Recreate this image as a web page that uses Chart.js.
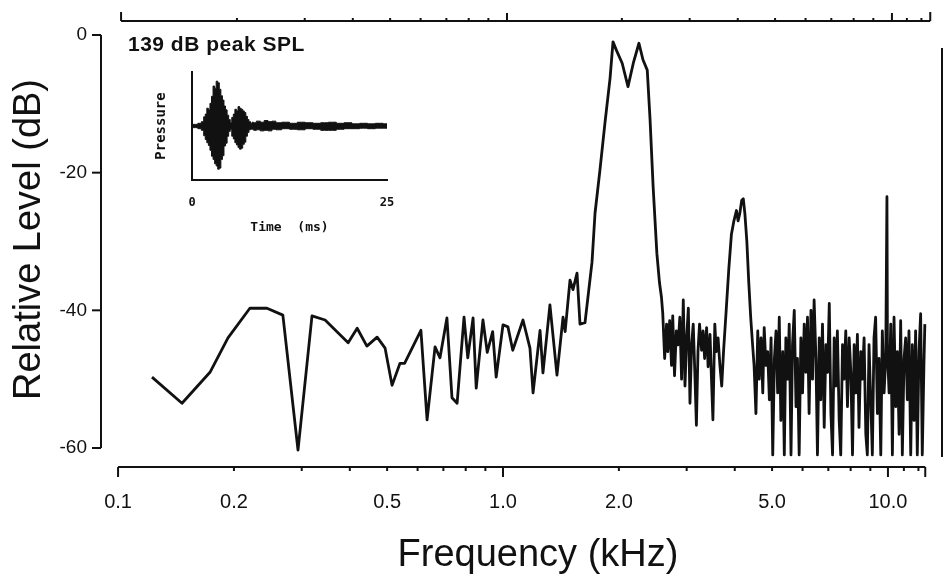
<!DOCTYPE html>
<html>
<head>
<meta charset="utf-8">
<script src="https://cdn.jsdelivr.net/npm/chart.js@4.4.1/dist/chart.umd.min.js"></script>
<style>
  html, body { margin: 0; padding: 0; background: #fff; }
  #wrap { position: relative; width: 945px; height: 578px; }
  #spectrum { position: absolute; left: 0; top: 0; }
  #waveform { position: absolute; left: 140px; top: 62px; }
</style>
</head>
<body>
<div id="wrap">
  <canvas id="spectrum" width="945" height="578"></canvas>
  <canvas id="waveform" width="260" height="180"></canvas>
</div>
<script>
// spectrum (kHz / dB)
const freqKHz = [
  0.1225, 0.1466, 0.1733, 0.193, 0.220, 0.2437, 0.268, 0.2934, 0.319, 0.345, 0.396, 0.418, 0.443, 0.471, 0.494, 0.515, 0.540, 0.555, 0.612, 0.635,
  0.666, 0.686, 0.715, 0.737, 0.760, 0.792, 0.81, 0.836, 0.852, 0.887, 0.91, 0.94, 0.96, 1.0, 1.03, 1.06, 1.127, 1.175, 1.197, 1.248,
  1.27, 1.324, 1.381, 1.432, 1.45, 1.493, 1.52, 1.557, 1.585, 1.633, 1.703, 1.734, 1.786, 1.84, 1.897, 1.931, 1.97, 2.04, 2.112, 2.18,
  2.255, 2.31, 2.37, 2.41, 2.455, 2.51, 2.55, 2.58, 2.60,
  2.63, 2.66, 2.68, 2.71, 2.74, 2.76, 2.79, 2.82, 2.85, 2.88,
  2.91, 2.94, 2.97, 3.00, 3.03, 3.06, 3.09, 3.12, 3.15, 3.18,
  3.21, 3.24, 3.28, 3.31, 3.34, 3.38, 3.41, 3.45, 3.48,
  3.51, 3.55, 3.58, 3.62, 3.66, 3.70,
  3.74, 3.80, 3.86, 3.92, 3.98, 4.04, 4.08, 4.12, 4.17, 4.21, 4.25, 4.30, 4.35, 4.40,
  4.45, 4.49, 4.54, 4.59, 4.63, 4.68, 4.73, 4.77, 4.82, 4.87,
  4.92, 4.97, 5.02, 5.07, 5.12, 5.17, 5.22, 5.27, 5.33, 5.38,
  5.43, 5.49, 5.54, 5.60, 5.65, 5.71, 5.77, 5.82, 5.88, 5.94,
  6.00, 6.06, 6.12, 6.18, 6.24, 6.31, 6.37, 6.43, 6.50, 6.56,
  6.63, 6.69, 6.76, 6.83, 6.90, 6.97, 7.04, 7.11, 7.18, 7.25,
  7.32, 7.39, 7.47, 7.54, 7.62, 7.69, 7.77, 7.85, 7.93, 8.01,
  8.09, 8.17, 8.25, 8.33, 8.41, 8.50, 8.58, 8.67, 8.76, 8.84,
  8.93, 9.02, 9.11, 9.20, 9.29, 9.39, 9.48, 9.58, 9.67, 9.77,
  9.87, 9.94, 9.97, 10.07, 10.17, 10.27, 10.37, 10.48, 10.58, 10.69,
  10.79, 10.90, 11.01, 11.12, 11.23, 11.34, 11.46, 11.57, 11.69, 11.80,
  11.92, 12.04, 12.16, 12.28, 12.40, 12.47
];
const levelDB = [
  -49.7, -53.5, -49.0, -44.0, -39.7, -39.7, -40.7, -60.3, -40.8, -41.4, -44.7, -42.6, -45.2, -43.9, -45.5, -50.9, -47.7, -47.7, -42.9, -55.9,
  -45.3, -46.9, -41.1, -52.7, -53.5, -41.0, -46.9, -41.1, -51.3, -41.4, -46.1, -43.1, -49.7, -42.1, -42.4, -45.8, -41.4, -45.5, -52.0, -42.9,
  -49.1, -39.2, -49.4, -41.0, -43.1, -35.6, -37.0, -34.6, -42.0, -41.8, -33.0, -25.9, -19.6, -12.8, -6.3, -1.0, -2.2, -4.1, -7.5, -4.1,
  -1.2, -3.6, -5.1, -12.3, -22.1, -31.7, -36.0, -38.1, -40.4,
  -47, -42, -46, -41.5, -48, -40.8, -49.5, -43, -45, -41,
  -50, -38.5, -51, -44, -39.7, -53.5, -45, -42, -49, -56.7,
  -46, -42, -45.8, -43, -47, -42.5, -48.2, -43.5, -50,
  -55.9, -42, -46, -44, -48, -51,
  -46, -40, -34, -29, -27, -25.5, -27, -26, -24, -23.8, -26, -30, -36, -41,
  -45, -48, -55, -43, -50, -44, -52, -42.5, -48, -46,
  -53, -44, -61, -47, -43, -52, -41, -56, -46, -61,
  -44, -50, -42, -61, -45, -40, -54, -47, -61, -44,
  -52, -42, -49, -41, -55, -40, -50, -38.5, -47, -61,
  -44, -53, -42, -57, -45, -49, -39, -55, -61, -44,
  -51, -43, -56, -61, -45, -50, -43, -54, -44, -49,
  -61, -45, -52, -43.5, -57, -46, -50, -44, -58, -61,
  -45, -53, -61, -44, -41, -55, -47, -61, -43, -52,
  -47, -23.5, -46, -52, -42, -61, -41, -54, -46, -58,
  -41.5, -61, -47, -44, -53, -43, -61, -45, -56, -43,
  -61, -46, -40.5, -61, -48, -42
];

// axis ticks
const xTickValues = [0.1, 0.2, 0.5, 1, 2, 5, 10];
const xTickLabels = ['0.1', '0.2', '0.5', '1.0', '2.0', '5.0', '10.0'];
const xMinorTicks = [0.2, 0.3, 0.4, 0.5, 0.6, 0.7, 0.8, 0.9, 2, 3, 4, 5, 6, 7, 8, 9, 11, 12];
const xMajorTicks = [1, 10];
const yTickValues = [0, -20, -40, -60];

// inset: pressure envelope of the click (ms / arbitrary units)
const inTime = [
  0, 0.5, 1.0, 1.4,
  1.6, 1.8, 2.0, 2.2, 2.4, 2.6, 2.8, 3.0, 3.2, 3.4, 3.6, 3.8, 4.0, 4.2, 4.4, 4.6, 4.8,
  5.0, 5.2, 5.4, 5.6, 5.8, 6.0, 6.2, 6.4, 6.6, 6.8, 7.0, 7.2, 7.4, 7.6, 7.8, 8.0,
  8.5, 9.0, 9.5, 10, 10.5, 11,
  12, 13, 14, 15, 16, 17, 18, 19, 20, 21, 22, 23, 24, 25
];
const inUpper = [
  0.03, 0.03, 0.05, 0.08,
  0.17, 0.22, 0.33, 0.30, 0.42, 0.55, 0.74, 0.70, 0.83, 0.80, 0.68, 0.56, 0.48, 0.37, 0.30, 0.20, 0.12,
  0.06, 0.16, 0.22, 0.31, 0.28, 0.36, 0.33, 0.31, 0.28, 0.25, 0.18, 0.12, 0.08, 0.05, 0.07, 0.06,
  0.09, 0.07, 0.10, 0.08, 0.09, 0.06,
  0.07, 0.05, 0.07, 0.06, 0.05, 0.06, 0.07, 0.05, 0.06, 0.04, 0.05, 0.04, 0.05, 0.04
];
const inLower = [
  -0.03, -0.03, -0.05, -0.08,
  -0.18, -0.25, -0.31, -0.36, -0.45, -0.56, -0.62, -0.70, -0.74, -0.80, -0.78, -0.62, -0.55, -0.37, -0.32, -0.19, -0.10,
  -0.06, -0.19, -0.24, -0.31, -0.35, -0.40, -0.43, -0.41, -0.34, -0.30, -0.19, -0.12, -0.07, -0.06, -0.06, -0.08,
  -0.07, -0.09, -0.08, -0.09, -0.06, -0.07,
  -0.05, -0.06, -0.07, -0.05, -0.06, -0.08, -0.08, -0.06, -0.05, -0.05, -0.04, -0.05, -0.04, -0.04
];

const INK = '#111';
const axisStart = 0.1;
const axisEnd = 12.5;

Chart.defaults.font.family = '"Liberation Sans", Arial, sans-serif';
Chart.defaults.color = INK;

// the frequency title sits a bit right of the plot centre in the original
const titleNudge = {
    id: 'titleNudge',
    beforeDraw(chart) {
        const x = chart.scales.x;
        if (x._nudged) return;
        x.left += 16;
        x.right += 16;
        x._nudged = true;
    }
};

// detached axes drawn like the original plot
const frameAxes = {
    id: 'frameAxes',
    afterDraw(chart) {
        const { ctx, chartArea, scales: { x, y } } = chart;
        const seg = (x1, y1, x2, y2) => {
            ctx.beginPath();
            ctx.moveTo(x1, y1);
            ctx.lineTo(x2, y2);
            ctx.stroke();
        };
        ctx.save();
        ctx.strokeStyle = INK;
        ctx.lineWidth = 2;

        // level axis
        const ax = chartArea.left;
        seg(ax, y.getPixelForValue(0), ax, y.getPixelForValue(-60));
        yTickValues.forEach(v => {
            const p = y.getPixelForValue(v);
            seg(ax - 9, p, ax, p);
        });

        // frequency axis at the bottom, ticks pointing down
        const bx0 = x.getPixelForValue(axisStart);
        const bx1 = x.getPixelForValue(axisEnd);
        const by = chartArea.bottom;
        seg(bx0, by, bx1, by);
        seg(bx0, by, bx0, by + 10);
        seg(bx1, by, bx1, by + 10);
        xMinorTicks.forEach(v => { const p = x.getPixelForValue(v); seg(p, by, p, by + 4); });
        xMajorTicks.forEach(v => { const p = x.getPixelForValue(v); seg(p, by, p, by + 10); });

        // matching frequency axis along the top, ticks pointing up
        const ty = 21;
        seg(bx0 + 3, ty, bx1 + 5, ty);
        seg(bx0 + 3, ty, bx0 + 3, ty - 9);
        seg(bx1 + 5, ty, bx1 + 5, ty - 9);
        xMinorTicks.forEach(v => { const p = x.getPixelForValue(v) + 3; seg(p, ty, p, ty - 3); });
        xMajorTicks.forEach(v => { const p = x.getPixelForValue(v) + 4; seg(p, ty, p, ty - 8); });

        // edge of the neighbouring panel
        seg(chartArea.right - 1, 48, chartArea.right - 1, 457);

        // stimulus level
        ctx.fillStyle = INK;
        ctx.font = 'bold 21px "Liberation Sans", Arial, sans-serif';
        ctx.letterSpacing = '0.5px';
        ctx.textBaseline = 'middle';
        ctx.fillText('139 dB peak SPL', 128, 45);
        ctx.restore();
    }
};

new Chart(document.getElementById('spectrum'), {
    type: 'line',
    data: {
        datasets: [{
            data: freqKHz.map((f, i) => ({ x: f, y: levelDB[i] })),
            borderColor: INK,
            borderWidth: 2.8,
            borderJoinStyle: 'round',
            pointRadius: 0,
            tension: 0,
            fill: false
        }]
    },
    options: {
        responsive: false,
        animation: false,
        layout: { padding: { top: 12, right: 2, left: 0, bottom: 0 } },
        plugins: { legend: { display: false }, tooltip: { enabled: false } },
        scales: {
            x: {
                type: 'logarithmic',
                min: 0.0903,
                max: 13.9,
                grid: { display: false, drawTicks: false },
                border: { display: false },
                afterFit: s => { s.height = 111; },
                afterBuildTicks: s => { s.ticks = xTickValues.map(v => ({ value: v })); },
                ticks: {
                    autoSkip: false,
                    maxRotation: 0,
                    padding: 23,
                    font: { size: 20 },
                    callback: (v, i) => xTickLabels[i]
                },
                title: {
                    display: true,
                    text: 'Frequency (kHz)',
                    font: { size: 38 },
                    padding: { top: 0, bottom: 0 }
                }
            },
            y: {
                min: -62.76,
                max: 3.34,
                grid: { display: false, drawTicks: false },
                border: { display: false },
                afterFit: s => { s.width = 101; s.paddingTop = 0; s.paddingBottom = 0; },
                afterBuildTicks: s => { s.ticks = yTickValues.map(v => ({ value: v })); },
                ticks: {
                    padding: 14,
                    font: { size: 19 },
                    callback: v => String(v)
                },
                title: {
                    display: true,
                    text: 'Relative Level (dB)',
                    font: { size: 38 },
                    padding: { top: 7, bottom: 0 }
                }
            }
        }
    },
    plugins: [titleNudge, frameAxes]
});

// inset waveform
const monoFont = '"DejaVu Sans Mono", monospace';
new Chart(document.getElementById('waveform'), {
    type: 'line',
    data: {
        datasets: [
            {
                data: inTime.map((t, i) => ({ x: t, y: inUpper[i] })),
                borderColor: INK,
                backgroundColor: INK,
                borderWidth: 1,
                pointRadius: 0,
                stepped: 'middle',
                fill: '+1'
            },
            {
                data: inTime.map((t, i) => ({ x: t, y: inLower[i] })),
                borderColor: INK,
                borderWidth: 1,
                pointRadius: 0,
                stepped: 'middle',
                fill: false
            }
        ]
    },
    options: {
        responsive: false,
        animation: false,
        layout: { padding: { top: 10, right: 13, left: 0, bottom: 0 } },
        plugins: { legend: { display: false }, tooltip: { enabled: false } },
        scales: {
            x: {
                type: 'linear',
                min: 0,
                max: 25,
                grid: { display: false, drawTicks: false },
                border: { display: true, color: INK, width: 2 },
                afterFit: s => { s.height = 62; s.paddingLeft = 0; s.paddingRight = 0; },
                afterBuildTicks: s => { s.ticks = [{ value: 0 }, { value: 25 }]; },
                ticks: {
                    padding: 16,
                    font: { family: monoFont, size: 12, weight: 'bold' },
                    callback: v => String(v)
                },
                title: {
                    display: true,
                    text: 'Time  (ms)',
                    font: { family: monoFont, size: 13, weight: 'bold' },
                    padding: { top: 0, bottom: 7 }
                }
            },
            y: {
                min: -1,
                max: 1,
                grid: { display: false, drawTicks: false },
                border: { display: true, color: INK, width: 2 },
                afterFit: s => { s.width = 52; s.paddingTop = 0; s.paddingBottom = 0; },
                ticks: { display: false },
                title: {
                    display: true,
                    text: 'Pressure',
                    font: { family: monoFont, size: 14, weight: 'bold' },
                    padding: { top: 13, bottom: 0 }
                }
            }
        }
    }
});
</script>
</body>
</html>
